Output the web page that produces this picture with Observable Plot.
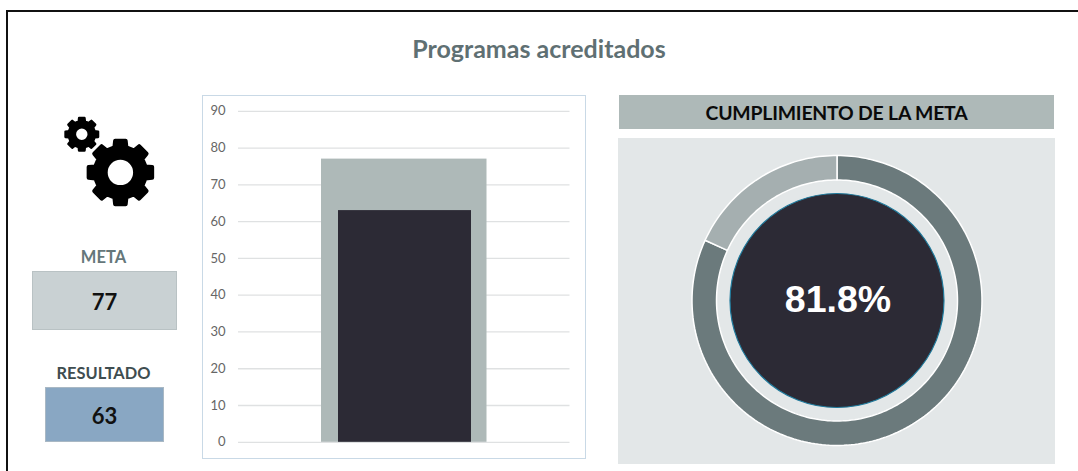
<!DOCTYPE html>
<html><head><meta charset="utf-8">
<script src="https://cdn.jsdelivr.net/npm/d3@7"></script>
<script src="https://cdn.jsdelivr.net/npm/@observablehq/plot@0.6"></script>
<style>
html,body{margin:0;padding:0;background:#fff;overflow:hidden}
#page{position:relative;width:1078px;height:471px;font-family:Lato,sans-serif;overflow:hidden}
.abs{position:absolute;box-sizing:border-box;display:flex;align-items:center;justify-content:center;font-weight:700;white-space:nowrap}
svg{display:block}
</style></head><body><div id="page"></div>
<script>
const chartTitle = "Programas acreditados";
const gaugeTitle = "CUMPLIMIENTO DE LA META";
const metaLabel = "META";
const resultLabel = "RESULTADO";
const meta = 77;
const resultado = 63;
const yTicks = [0,10,20,30,40,50,60,70,80,90];
const sliceNames = ["Cumplido","Pendiente"];
const sliceValues = [63,14];
const sliceColors = ["#6b7a7c","#a5afb0"];
const gaugeText = "81.8%";

const page = document.getElementById("page");
function box(l,t,w,h,css,text){
  const d=document.createElement("div");d.className="abs";
  d.style.cssText=`left:${l}px;top:${t}px;width:${w}px;height:${h}px;${css}`;
  if(text!==undefined)d.textContent=text;page.appendChild(d);return d;
}
// frame: top and left edges only
box(6,10,1080,480,"border-top:2px solid #111;border-left:2px solid #111;");
box(339,30,400,36,"font-size:25px;color:#5f7073;",chartTitle);
box(31,246,145,22,"font-size:16.5px;color:#65777a;",metaLabel);
box(32,271,145,59,"background:#c9d1d3;border:1px solid #b9c2c4;font-size:22px;color:#111;padding-top:2px;",String(meta));
box(31,361,145,22,"font-size:16.4px;color:#3f4d50;",resultLabel);
box(45,387,119,55,"background:#89a7c3;border:1px solid #a9b8c4;font-size:22px;color:#111;padding-top:2px;",String(resultado));
box(619,95,435,34,"background:#aeb9b8;font-size:19.4px;color:#0a0a0a;letter-spacing:-.2px;",gaugeTitle);
box(618,138,437,326,"background:#e3e7e8;");

// gear icon
function gearPath(cx,cy,R,hole,sw){
  const n=8,r=R*.8,p=[];
  for(let i=0;i<n;i++){
    const a=i*2*Math.PI/n-Math.PI/2,s=Math.PI/n;
    [[r,-s*.6],[R,-s*.42],[R,s*.42],[r,s*.6]].forEach(([q,o])=>p.push([cx+q*Math.cos(a+o),cy+q*Math.sin(a+o)]));
  }
  const h=hole+sw/2;
  return "M"+p.map(d=>d.join(",")).join("L")+"Z"+
    `M${cx+h},${cy}A${h},${h} 0 1,0 ${cx-h},${cy}A${h},${h} 0 1,0 ${cx+h},${cy}Z`;
}
const icon=d3.select(page).append("svg").attr("width",140).attr("height",110)
  .style("position","absolute").style("left","40px").style("top","105px");
[[80.4,67.4,32.2,12.7,4],[41.8,29.3,16.5,5.7,2.4]].forEach(([cx,cy,R,hole,sw])=>{
  icon.append("path").attr("d",gearPath(cx,cy,R,hole,sw))
    .attr("fill","#000").attr("fill-rule","evenodd")
    .attr("stroke","#000").attr("stroke-width",sw).attr("stroke-linejoin","round");
});

// bar chart
const barCard=box(202,95,384,364,"border:1.5px solid #c9d9e6;background:#fff;font-weight:400;");
const bars=Plot.plot({
  width:381,height:361,marginLeft:35,marginRight:14.5,marginTop:14.8,marginBottom:15.2,
  style:{background:"transparent",fontFamily:"Lato,sans-serif",fontWeight:400},
  x:{domain:["v"],axis:null,padding:0},
  y:{domain:[0,90],ticks:yTicks,axis:null},
  marks:[
    Plot.ruleY(yTicks,{stroke:"#dfe1e2",strokeWidth:1.3}),
    Plot.barY([meta],{x:()=>"v",y:d=>d,fill:"#aeb9b8",insetLeft:83,insetRight:82.5}),
    Plot.barY([resultado],{x:()=>"v",y:d=>d,fill:"#2c2a35",insetLeft:100,insetRight:98}),
    Plot.axisY({ticks:yTicks,tickSize:0,tickPadding:13,fontSize:13,stroke:"none",fill:"#666",label:null})
  ]
});
bars.style.position="absolute";bars.style.left="0";bars.style.top="0";
barCard.appendChild(bars);

// donut
const W=437,H=326,R=145,Ri=120.5;
const arcs=d3.pie().sort(null).value(d=>d)(sliceValues)
  .map((a,i)=>({...a,name:sliceNames[i],color:sliceColors[i]}));
function sector(a){
  const n=Math.ceil((a.endAngle-a.startAngle)*40),out=[],inn=[];
  for(let k=0;k<=n;k++){
    const t=a.startAngle+(a.endAngle-a.startAngle)*k/n;
    out.push([R*Math.sin(t),R*Math.cos(t)]);
    inn.push([Ri*Math.sin(t),Ri*Math.cos(t)]);
  }
  const ring=[...out,...inn.reverse()];ring.push(ring[0]);
  return {type:"Feature",properties:{color:a.color},geometry:{type:"Polygon",coordinates:[ring]}};
}
const donut=Plot.plot({
  width:W,height:H,margin:0,
  style:{background:"transparent"},
  projection:()=>d3.geoIdentity().reflectY(true).translate([W/2,H/2]),
  marks:[
    Plot.geo(arcs.map(sector),{fill:d=>d.properties.color,stroke:"#fff",strokeWidth:1.5}),
    Plot.dot([gaugeText],{frameAnchor:"middle",r:107,fill:"#2c2a35",stroke:"#1f7a9c",strokeWidth:1.2}),
    Plot.text([gaugeText],{frameAnchor:"middle",dx:1,dy:-1,text:d=>d,fill:"#fff",fontSize:37.5,fontWeight:700,fontFamily:"Liberation Sans"})
  ]
});
donut.style.position="absolute";donut.style.left="617.5px";donut.style.top="137px";
page.appendChild(donut);
</script></body></html>
